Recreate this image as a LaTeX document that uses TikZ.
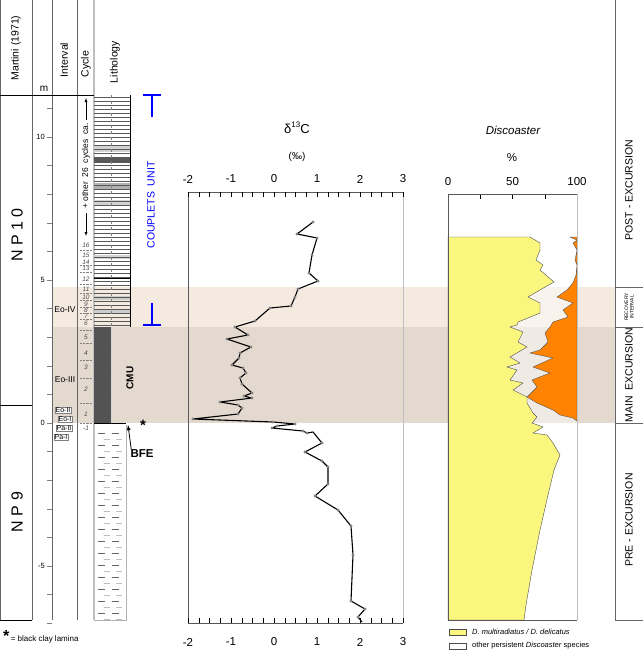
\documentclass[tikz,border=0pt]{standalone}
\usepackage{fontspec}
\setmainfont{Liberation Sans}
\begin{document}
\begin{tikzpicture}[x=1pt,y=-1pt,
  lbl/.style={inner sep=0pt,font=\fontsize{10}{10}\selectfont},
  sml/.style={inner sep=0pt,font=\fontsize{7.5}{7.5}\selectfont},
  hdr/.style={inner sep=0pt,rotate=90,font=\fontsize{10.5}{10.5}\selectfont},
  ibox/.style={draw=gray,fill=white,inner sep=0.6pt,font=\fontsize{7}{7}\selectfont},
  cyc/.style={inner sep=0pt,font=\fontsize{6.5}{6.5}\selectfont\itshape,text=gray!60!black},
  blu/.style={draw=blue,line width=1.4pt}]
\definecolor{bandA}{HTML}{F4EAE0}
\definecolor{bandB}{HTML}{E3D9CE}
\definecolor{yel}{HTML}{FBF77E}
\definecolor{org}{HTML}{FF8200}
\useasboundingbox (0,0) rectangle (643,651);
\fill[white] (0,0) rectangle (643,651);
% bands
\fill[bandA] (52,287) rectangle (615,327);
\fill[bandB] (52,327) rectangle (615,423);
% ---------- left table ----------
\foreach \xx in {0,32,52,77} \draw[gray!80!black] (\xx,0) -- (\xx,620);
\draw[gray!50,line width=1.5pt] (94,0) -- (94,620);
\draw (0,95) -- (94,95);
\draw (0,405) -- (32,405);
\draw (0,620) -- (32,620);
\node[hdr] (hm) at (16,48) {Martini (1971)};
\node[hdr] (hi) at (64,60) {Interval};
\node[hdr] (hc) at (86,64) {Cycle};
\node[hdr] (hl) at (115,62) {Lithology};
\node[lbl] (mm) at (44,89) {m};
\node[hdr,font=\fontsize{16}{16}\selectfont] (np10) at (17,235) {N P 1 0};
\node[hdr,font=\fontsize{16}{16}\selectfont] (np9) at (17,512) {N P 9};
% m axis
\foreach \k in {-7,...,11} \draw[gray] (52,{423-28.6*\k}) -- (47,{423-28.6*\k});
\node[sml,anchor=east] (t10) at (45,137) {10};
\node[sml,anchor=east] (t5) at (45,280) {5};
\node[sml,anchor=east] (t0) at (45,423) {0};
\node[sml,anchor=east] (tm5) at (45,566) {-5};
% intervals
\node[lbl,font=\fontsize{8.5}{8.5}\selectfont] (eo4) at (65,310) {Eo-IV};
\node[lbl,font=\fontsize{8.5}{8.5}\selectfont] (eo3) at (65,380) {Eo-III};
\node[ibox] (eo2) at (63,410) {Eo-II};
\node[ibox] (eo1) at (65,419) {Eo-I};
\node[ibox] (pa2) at (64,428) {Pa-II};
\node[ibox] (pa1) at (61,437) {Pa-I};
% cycles
\foreach \n/\yy in {16/245,15/255,14/262,13/268,12/279,11/289,10/297,9/304,8/310,7/316,6/323,5/337,4/353,3/367,2/389,1/414,-1/428}
  \node[cyc] at (86,\yy) {\n};
\foreach \yy in {250,265,272,284,293,300,307,313,319,330,343,360,378,403,423}
  \draw[gray,densely dotted] (80,\yy) -- (92,\yy);
\node[hdr,font=\fontsize{8.5}{8.5}\selectfont] (oth) at (86,166) {+ other\ \ 26\ \ cycles\ \ ca.};
\coordinate (aa) at (86,120); \coordinate (ab) at (86,98);
\coordinate (ac) at (86,213); \coordinate (ad) at (86,236);
\draw[-latex] (aa) -- (ab);
\draw[-latex] (ac) -- (ad);
% lithology couplets
\fill[gray!35] (94,145) rectangle (130,152);
\fill[gray!70!black] (94,157) rectangle (130,163);
\fill[gray!60] (94,183) rectangle (130,190);
\fill[gray!35] (94,200) rectangle (130,205);
\fill[gray!35] (94,255) rectangle (130,259);
\fill[gray!40] (94,296) rectangle (130,300);
\fill[gray!40] (94,310) rectangle (130,313);
\foreach \yy in {97,101,...,325} \draw[gray!70!black,line width=0.4pt] (94,\yy) -- (130,\yy);
\draw[line width=0.9pt] (94,278) -- (130,278);
\draw (130,95) -- (130,327);
\draw[gray,dashed] (111,95) -- (111,327);
% CMU
\fill[gray!65!black] (94,327) rectangle (111,423);
\draw[gray!40,dotted] (111,327) -- (111,423);
\draw (94,423) -- (126,423);
% lower lithology
\draw[gray!60] (126,425) -- (126,620) -- (94,620);
\foreach \yy in {433,445,457,469,481,493,505,517,529,541,553,565,577,589,601,613}{
  \draw[gray!80!black,line width=0.7pt] (98,\yy) -- (105,\yy) (112,\yy) -- (119,\yy);
  \draw[gray!50,line width=0.9pt] (104,\yy+6) -- (110,\yy+6) (116,\yy+6) -- (122,\yy+6);}
\node[lbl,rotate=90,font=\fontsize{10}{10}\selectfont\bfseries] (cmu) at (130,378) {CMU};
\node[lbl,font=\fontsize{15}{15}\selectfont\bfseries] (star) at (143,425) {*};
\node[lbl,font=\fontsize{11.5}{11.5}\selectfont\bfseries] (bfe) at (142,454) {BFE};
\coordinate (bfeT) at (128,425);
\draw[-latex,thick] (bfe.north west) ++(1,0) -- (bfeT);
% blue markers
\node[hdr,text=blue,font=\fontsize{10.5}{10.5}\selectfont] (cu) at (151,205) {COUPLETS\ \ UNIT};
\draw[blu] (143,95) -- (161,95) (152,95) -- (152,117);
\draw[blu] (143,325) -- (161,325) (152,325) -- (152,303);
% ---------- d13C plot ----------
\node[lbl,font=\fontsize{13}{13}\selectfont] (d13) at (297,128) {\char"03B4\raisebox{0.8ex}{\fontsize{8}{8}\selectfont 13}C};
\node[lbl,font=\fontsize{10}{10}\selectfont] (pm) at (297,157) {(\char"2030)};
\draw[gray!70!black] (188,623) -- (188,192) -- (403,192);
\draw[gray!70!black] (188,623) -- (403,623);
\draw[gray!50] (403,192) -- (403,623);
\foreach \v in {-2,...,3}{
  \node[lbl,font=\fontsize{11.5}{11.5}\selectfont] at ({188+43*(\v+2)},179) {\v};
  \node[lbl,font=\fontsize{11.5}{11.5}\selectfont] at ({188+43*(\v+2)},642) {\v};}
\foreach \k in {0,...,20}{
  \draw ({188+10.75*\k},192) -- ({188+10.75*\k},197);
  \draw ({188+10.75*\k},623) -- ({188+10.75*\k},618);}
\draw[line width=1.1pt,line join=round]
 plot coordinates {(313,222)(297,234)(317,238)(312,255)(309,273)(318,281)(298,289)(295,297)(291,306)(270,308)(255,321)(235,327)(248,335)(227,339)(251,347)(240,353)(239,358)(232,365)(243,368)(246,373)(240,378)(242,384)(252,393)(244,396)(252,398)(220,402)(238,405)(242,408)(238,414)(193,419)(273,422)(295,424)(277,426)(272,428)(303,431)(307,433)(313,432)(322,443)(305,452)(322,461)(328,467)(328,484)(315,496)(338,510)(351,526)(353,555)(351,601)(365,609)(358,617)(362,622)};
\foreach \p in {(313,222),(297,234),(317,238),(312,255),(309,273),(318,281),(298,289),(295,297),(291,306),(270,308),(255,321),(235,327),(248,335),(227,339),(251,347),(240,353),(239,358),(232,365),(243,368),(246,373),(240,378),(242,384),(252,393),(244,396),(252,398),(220,402),(238,405),(242,408),(238,414),(193,419),(273,422),(295,424),(277,426),(272,428),(303,431),(307,433),(322,443),(305,452),(322,461),(328,467),(328,484),(315,496),(338,510),(351,526),(353,555),(351,601),(365,609),(358,617)}
  \fill[gray] \p circle (1.7);
% ---------- Discoaster ----------
\node[lbl,font=\fontsize{11.5}{11.5}\selectfont\itshape] (disc) at (513,130) {Discoaster};
\node[lbl,font=\fontsize{11.5}{11.5}\selectfont] (pct) at (512,158) {\%};
\foreach \v/\xx in {0/448,50/512.5,100/577} \node[lbl,font=\fontsize{11.5}{11.5}\selectfont] at (\xx,182) {\v};
\foreach \k in {0,...,4} \draw ({448+32.25*\k},194) -- ({448+32.25*\k},199);
\fill[white,fill opacity=0.45] (448,237) rectangle (577,620);
\fill[org,draw=gray!70!black,line width=0.4pt]
 (570,237) -- (577,240) -- (573,243) -- (577,250) -- (575,260) -- (577,265) -- (576,275) -- (573,283) -- (567,290) -- (557,297) -- (573,303) -- (563,310) -- (568,317) -- (553,322) -- (550,327) -- (545,333) -- (548,342) -- (540,350) -- (530,353) -- (553,358) -- (533,367) -- (550,373) -- (532,380) -- (537,387) -- (527,397) -- (537,403) -- (553,410) -- (560,415) -- (573,418) -- (577,421) -- (577,237) -- cycle;
\fill[yel,draw=gray!60!black,line width=0.4pt]
 (448,237) -- (530,237) -- (540,243) -- (540,250) -- (536,260) -- (543,265) -- (540,270) -- (554,282) -- (545,287) -- (528,297) -- (540,303) -- (540,313) -- (518,322) -- (517,325) -- (510,327) -- (523,332) -- (518,342) -- (527,347) -- (510,357) -- (520,363) -- (507,367) -- (517,370) -- (510,380) -- (523,383) -- (513,390) -- (527,397) -- (527,403) -- (533,413) -- (537,417) -- (532,423) -- (543,427) -- (533,433) -- (547,435) -- (553,443) -- (560,455) -- (554,470) -- (548,495) -- (540,530) -- (532,570) -- (526,605) -- (524,620) -- (448,620) -- cycle;
\draw[gray!70!black] (448,620) -- (448,194) -- (577,194);
\draw[gray!50,line width=1pt] (577,194) -- (577,620);
\draw[gray!70!black] (448,620) -- (577,620);
% ---------- right column ----------
\draw[gray!80!black] (615,0) -- (615,620);
\foreach \yy in {287,327,423,620} \draw[gray!80!black] (615,\yy) -- (643,\yy);
\node[hdr] (post) at (629,190) {POST - EXCURSION};
\node[hdr,align=center,font=\fontsize{5}{5.5}\selectfont] (rec) at (629,307) {RECOVERY\\INTERVAL};
\node[hdr] (main) at (629,375) {MAIN\ \ EXCURSION};
\node[hdr] (pre) at (629,520) {PRE - EXCURSION};
% ---------- legends ----------
\node[lbl,anchor=west,font=\fontsize{8}{8}\selectfont] (leg0) at (3,637) {\fontsize{16}{16}\selectfont\bfseries *\fontsize{8}{8}\selectfont\mdseries\,= black clay lamina};
\node[draw=gray!60!black,fill=yel,minimum width=17pt,minimum height=6pt,inner sep=0pt] (ly) at (458,632) {};
\node[lbl,anchor=west,font=\fontsize{7.5}{7.5}\selectfont\itshape] (lyt) at (472,632) {D. multiradiatus / D. delicatus};
\node[draw=gray!60!black,fill=white,minimum width=17pt,minimum height=6pt,inner sep=0pt] (lw) at (458,646) {};
\node[lbl,anchor=west,font=\fontsize{7.5}{7.5}\selectfont] (lwt) at (472,646) {other persistent \textit{Discoaster} species};
\end{tikzpicture}
\end{document}
